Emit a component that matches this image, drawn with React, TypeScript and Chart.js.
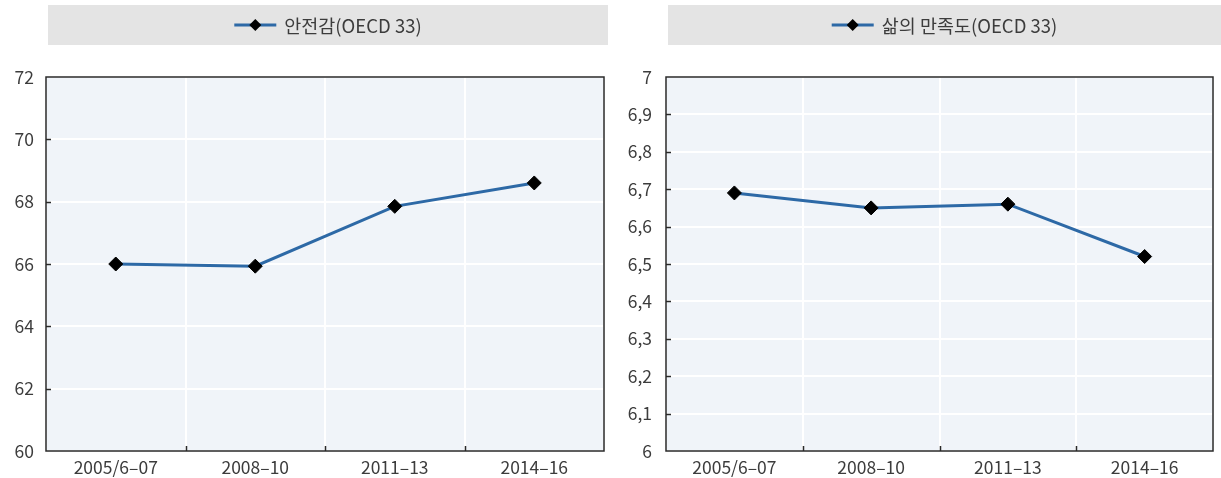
import React, { useEffect, useRef } from 'react';
import { Chart, registerables } from 'chart.js';

Chart.register(...registerables);

// Survey periods shared by both panels
const periods = ['2005/6–07', '2008–10', '2011–13', '2014–16'];

// Feeling of safety, OECD 33 average
const safetyLabel = '안전감(OECD 33)';
const safetyValues = [66.0, 65.93, 67.85, 68.6];
const safetyMin = 60;
const safetyMax = 72;
const safetyStep = 2;

// Life satisfaction, OECD 33 average
const satisfactionLabel = '삶의 만족도(OECD 33)';
const satisfactionValues = [6.69, 6.65, 6.66, 6.52];
const satisfactionMin = 6;
const satisfactionMax = 7;
const satisfactionStep = 0.1;

const FONT = '"Noto Sans CJK KR", "Noto Sans", sans-serif';
const LINE_COLOR = '#2d69a6';
const TEXT_COLOR = '#3c3c3c';

// Plot background, grey legend band, frame and inward tick marks
const panelPlugin = {
  id: 'panel',
  beforeDraw(chart: any, _args: any, opts: any) {
    const { ctx, chartArea: a } = chart;
    ctx.save();
    ctx.fillStyle = '#f0f4f9';
    ctx.fillRect(a.left, a.top, a.right - a.left, a.bottom - a.top);

    // legend band
    ctx.fillStyle = '#e4e4e4';
    ctx.fillRect(opts.bandLeft, 5, opts.bandRight - opts.bandLeft, 40);
    const label = chart.data.datasets[0].label as string;
    ctx.font = `18.5px ${FONT}`;
    const tw = ctx.measureText(label).width;
    const symW = 42;
    const gap = 8;
    const total = symW + gap + tw;
    const cx = (opts.bandLeft + opts.bandRight) / 2;
    const x0 = cx - total / 2;
    const cy = 25;
    ctx.strokeStyle = LINE_COLOR;
    ctx.lineWidth = 3;
    ctx.beginPath();
    ctx.moveTo(x0, cy);
    ctx.lineTo(x0 + symW, cy);
    ctx.stroke();
    ctx.fillStyle = '#000';
    ctx.beginPath();
    const mx = x0 + symW / 2;
    ctx.moveTo(mx, cy - 6);
    ctx.lineTo(mx + 6, cy);
    ctx.lineTo(mx, cy + 6);
    ctx.lineTo(mx - 6, cy);
    ctx.closePath();
    ctx.fill();
    ctx.fillStyle = TEXT_COLOR;
    ctx.textBaseline = 'middle';
    ctx.textAlign = 'left';
    ctx.fillText(label, x0 + symW + gap, cy + 1);
    ctx.restore();
  },
  beforeDatasetsDraw(chart: any) {
    const { ctx, chartArea: a, scales } = chart;
    ctx.save();
    ctx.strokeStyle = '#2a2a2a';
    ctx.lineWidth = 1.5;
    ctx.strokeRect(a.left, a.top, a.right - a.left, a.bottom - a.top);
    ctx.beginPath();
    const y = scales.y;
    y.ticks.forEach((t: any, i: number) => {
      if (i === 0 || i === y.ticks.length - 1) return;
      const py = Math.round(y.getPixelForValue(t.value)) + 0.5;
      ctx.moveTo(a.left, py);
      ctx.lineTo(a.left + 5, py);
    });
    const x = scales.x;
    const n = chart.data.labels.length;
    for (let i = 1; i < n; i++) {
      const px = Math.round((x.getPixelForValue(i - 1) + x.getPixelForValue(i)) / 2) + 0.5;
      ctx.moveTo(px, a.bottom);
      ctx.lineTo(px, a.bottom - 5);
    }
    ctx.stroke();
    ctx.restore();
  },
};

type PanelProps = {
  width: number;
  left: number;
  label: string;
  values: number[];
  min: number;
  max: number;
  step: number;
  axisWidth: number;
  labelPad: number;
  padRight: number;
  bandLeft: number;
  bandRight: number;
  comma: boolean;
};

function Panel(p: PanelProps) {
  const ref = useRef<HTMLCanvasElement | null>(null);

  useEffect(() => {
    if (!ref.current) return;
    const chart = new Chart(ref.current, {
      type: 'line',
      data: {
        labels: periods,
        datasets: [
          {
            label: p.label,
            data: p.values,
            borderColor: LINE_COLOR,
            borderWidth: 3,
            pointStyle: 'rectRot',
            pointRadius: 7,
            pointBackgroundColor: '#000',
            pointBorderColor: '#000',
            pointBorderWidth: 1,
            tension: 0,
          },
        ],
      },
      options: {
        animation: false,
        responsive: false,
        maintainAspectRatio: false,
        layout: { padding: { top: 77, right: p.padRight, bottom: 0, left: 0 } },
        plugins: {
          legend: { display: false },
          tooltip: { enabled: false },
          panel: { bandLeft: p.bandLeft, bandRight: p.bandRight },
        } as any,
        scales: {
          x: {
            offset: true,
            grid: { offset: true, color: '#ffffff', lineWidth: 2, drawTicks: false },
            border: { display: false },
            ticks: {
              padding: 6,
              maxRotation: 0,
              autoSkip: false,
              color: TEXT_COLOR,
              font: { family: FONT, size: 17.5 },
            },
            afterFit(s: any) {
              s.height = 27;
            },
          },
          y: {
            min: p.min,
            max: p.max,
            grid: { color: '#ffffff', lineWidth: 2, drawTicks: false },
            border: { display: false },
            ticks: {
              stepSize: p.step,
              padding: p.labelPad,
              color: TEXT_COLOR,
              font: { family: FONT, size: 17.5 },
              callback: (v: any) => {
                const num = Number(v);
                if (!p.comma) return String(Math.round(num));
                if (Math.abs(num - Math.round(num)) < 1e-6) return String(Math.round(num));
                return num.toFixed(1).replace('.', ',');
              },
            },
            afterFit(s: any) {
              s.width = p.axisWidth;
            },
          },
        },
      },
      plugins: [panelPlugin],
    });
    return () => chart.destroy();
  }, []);

  return (
    <canvas
      ref={ref}
      width={p.width}
      height={478}
      style={{ position: 'absolute', left: p.left, top: 0, width: p.width, height: 478 }}
    />
  );
}

export default function App() {
  return (
    <div
      style={{
        position: 'fixed',
        left: 0,
        top: 0,
        width: 1221,
        height: 478,
        background: '#ffffff',
        overflow: 'hidden',
      }}
    >
      <Panel
        width={612}
        left={0}
        label={safetyLabel}
        values={safetyValues}
        min={safetyMin}
        max={safetyMax}
        step={safetyStep}
        axisWidth={46}
        labelPad={12}
        padRight={4}
        bandLeft={48}
        bandRight={608}
        comma={false}
      />
      <Panel
        width={609}
        left={612}
        label={satisfactionLabel}
        values={satisfactionValues}
        min={satisfactionMin}
        max={satisfactionMax}
        step={satisfactionStep}
        axisWidth={54}
        labelPad={14}
        padRight={2}
        bandLeft={56}
        bandRight={609}
        comma={true}
      />
    </div>
  );
}
